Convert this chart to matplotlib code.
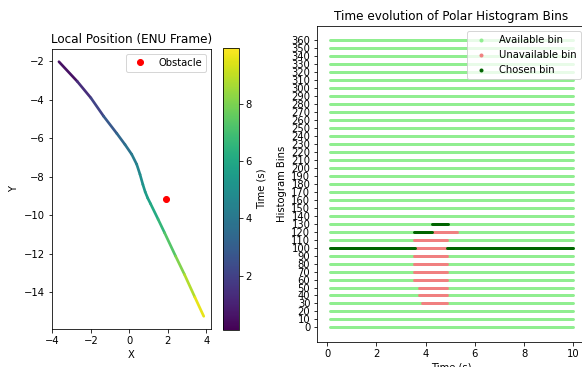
import matplotlib
matplotlib.use("Agg")
import matplotlib.pyplot as plt
import numpy as np
from matplotlib.collections import LineCollection
from matplotlib.lines import Line2D

# trajectory waypoints (ENU, metres) and their time stamps (s)
pos_x = [-3.66, -2.71, -2.00, -1.34, -0.65, -0.23, 0.12, 0.38, 0.55, 0.70,
         0.82, 0.95, 1.10, 1.49, 1.83, 2.40, 2.86, 3.40, 3.86]
pos_y = [-2.02, -3.04, -3.90, -4.85, -5.75, -6.32, -6.83, -7.35, -7.87, -8.40,
         -8.78, -9.10, -9.40, -10.20, -10.91, -12.12, -13.07, -14.25, -15.24]
pos_t = [0.1, 0.99, 1.71, 2.45, 3.18, 3.63, 4.03, 4.40, 4.76, 5.12,
         5.38, 5.60, 5.80, 6.37, 6.88, 7.74, 8.41, 9.25, 9.95]
obstacle = (1.92, -9.17)

# polar histogram bins (deg) and the time intervals of each state
bins = list(range(0, 361, 10))
t_first, t_last = 0.1, 10.0
unavailable = {
    30: [(3.85, 4.87)],
    40: [(3.74, 4.87)],
    50: [(3.74, 4.87)],
    60: [(3.54, 4.87)],
    70: [(3.54, 4.87)],
    80: [(3.54, 4.87)],
    90: [(3.54, 4.87)],
    100: [(3.56, 4.87)],
    110: [(3.54, 4.87)],
    120: [(4.28, 5.27)],
}
chosen = {
    100: [(0.1, 3.56), (4.87, 10.0)],
    120: [(3.54, 4.28)],
    130: [(4.26, 4.89)],
}

c_avail = 'lightgreen'
c_unavail = 'lightcoral'
c_chosen = 'darkgreen'

fig = plt.figure(figsize=(582 / 72, 367 / 72), dpi=72)

# ---- left: trajectory coloured by time
ax1 = fig.add_axes([0.0888, 0.1035, 0.2737, 0.763])
pts = np.column_stack([pos_x, pos_y]).reshape(-1, 1, 2)
segs = np.concatenate([pts[:-1], pts[1:]], axis=1)
tt = np.array(pos_t)
lc = LineCollection(segs, cmap='viridis', linewidth=2.7, capstyle='round', joinstyle='round')
lc.set_array((tt[:-1] + tt[1:]) / 2)
lc.set_clim(min(pos_t), max(pos_t))
ax1.add_collection(lc)
ax1.autoscale()
ax1.plot(obstacle[0], obstacle[1], 'o', color='red', label='Obstacle')
ax1.set_aspect('equal', adjustable='datalim')
ax1.set_xticks([-4, -2, 0, 2, 4])
ax1.set_xlabel('X')
ax1.set_ylabel('Y')
ax1.set_title('Local Position (ENU Frame)')
ax1.legend(loc='upper right')

cax = fig.add_axes([0.3832, 0.1008, 0.027, 0.768])
cb = fig.colorbar(lc, cax=cax)
cb.set_label('Time (s)')

# ---- right: polar histogram bins over time
ax2 = fig.add_axes([0.5452, 0.0689, 0.461, 0.860])
ax2.hlines(bins, t_first, t_last, colors=c_avail, linewidth=3, capstyle='round')
for b, spans in unavailable.items():
    for s, e in spans:
        ax2.hlines(b, s, e, colors=c_unavail, linewidth=3, capstyle='round')
for b, spans in chosen.items():
    for s, e in spans:
        ax2.hlines(b, s, e, colors=c_chosen, linewidth=3, capstyle='round')
ax2.set_yticks(bins)
ax2.set_xticks([0, 2, 4, 6, 8, 10])
ax2.set_xlabel('Time (s)')
ax2.set_ylabel('Histogram Bins')
ax2.set_title('Time evolution of Polar Histogram Bins')
handles = [
    Line2D([], [], ls='', marker='o', markersize=3, color=c_avail, label='Available bin'),
    Line2D([], [], ls='', marker='o', markersize=3, color=c_unavail, label='Unavailable bin'),
    Line2D([], [], ls='', marker='o', markersize=3, color=c_chosen, label='Chosen bin'),
]
ax2.legend(handles=handles, loc='upper right')

fig.savefig('out.png', dpi=72)
